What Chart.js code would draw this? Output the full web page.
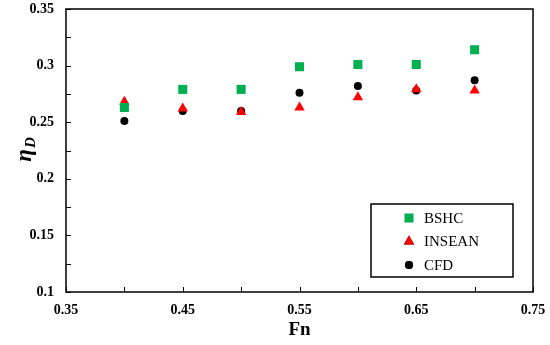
<!DOCTYPE html>
<html>
<head>
<meta charset="utf-8">
<script src="https://cdn.jsdelivr.net/npm/chart.js@4"></script>
<style>
  html, body { margin: 0; padding: 0; background: #fff; }
  #wrap { width: 550px; height: 345px; }
</style>
</head>
<body>
<div id="wrap"><canvas id="etaChart" width="550" height="345"></canvas></div>
<script>
// datos
const fn = [0.40, 0.45, 0.50, 0.55, 0.60, 0.65, 0.70];
const bshc = [0.263, 0.279, 0.279, 0.299, 0.301, 0.301, 0.314];
const insean = [0.268, 0.262, 0.259, 0.263, 0.272, 0.279, 0.278];
const cfd = [0.251, 0.260, 0.260, 0.276, 0.282, 0.278, 0.287];
const seriesNames = ['BSHC', 'INSEAN', 'CFD'];
const xTitle = 'Fn';

function pts(ys) {
    return fn.map((x, i) => ({ x: x, y: ys[i] }));
}

const serif = '"Liberation Serif", "Times New Roman", serif';

// marco, marcas interiores, titulo del eje y y leyenda
const extras = {
    id: 'extras',
    afterDraw(chart) {
        const ctx = chart.ctx;
        const a = chart.chartArea;
        const xs = chart.scales.x, ys = chart.scales.y;
        ctx.save();
        ctx.strokeStyle = '#000';
        ctx.lineWidth = 1.5;
        ctx.strokeRect(a.left, a.top, a.right - a.left, a.bottom - a.top);

        ctx.lineWidth = 1;
        ctx.beginPath();
        xs.ticks.forEach(t => {
            const px = Math.round(xs.getPixelForValue(t.value)) + 0.5;
            ctx.moveTo(px, a.bottom);
            ctx.lineTo(px, a.bottom - 5);
        });
        ys.ticks.forEach(t => {
            const py = Math.round(ys.getPixelForValue(t.value)) + 0.5;
            ctx.moveTo(a.left, py);
            ctx.lineTo(a.left + 5, py);
        });
        ctx.stroke();

        // titulo eje y: eta sub D
        ctx.translate(25, 150);
        ctx.rotate(-Math.PI / 2);
        ctx.fillStyle = '#000';
        ctx.textBaseline = 'alphabetic';
        ctx.font = 'italic bold 23px ' + serif;
        ctx.textAlign = 'left';
        const w1 = ctx.measureText('η').width;
        const w2 = (ctx.font = 'italic bold 15px ' + serif, ctx.measureText('D').width);
        const start = -(w1 + w2) / 2;
        ctx.font = 'italic bold 23px ' + serif;
        ctx.fillText('η', start, 6);
        ctx.font = 'italic bold 15px ' + serif;
        ctx.fillText('D', start + w1 + 1, 10);
        ctx.setTransform(1, 0, 0, 1, 0, 0);

        // leyenda
        const bx = 371, by = 204, bw = 142, bh = 73;
        ctx.fillStyle = '#fff';
        ctx.fillRect(bx, by, bw, bh);
        ctx.strokeStyle = '#000';
        ctx.lineWidth = 1.5;
        ctx.strokeRect(bx, by, bw, bh);
        ctx.font = '15px ' + serif;
        ctx.textAlign = 'left';
        ctx.textBaseline = 'middle';
        chart.data.datasets.forEach((ds, i) => {
            const cy = 218 + i * 23.5;
            Chart.helpers.drawPoint(ctx, {
                pointStyle: ds.pointStyle,
                radius: ds.pointRadius,
                borderWidth: 0
            }, 409, cy);
            ctx.fillStyle = ds.backgroundColor;
            ctx.fill();
            ctx.fillStyle = '#000';
            ctx.fillText(ds.label, 424, cy + 1);
        });
        ctx.restore();
    }
};

const ctx = document.getElementById('etaChart').getContext('2d');
const etaChart = new Chart(ctx, {
    type: 'scatter',
    data: {
        datasets: [{
            label: seriesNames[0],
            data: pts(bshc),
            pointStyle: 'rect',
            pointRadius: 6.4,
            backgroundColor: '#00b050',
            borderWidth: 0
        }, {
            label: seriesNames[1],
            data: pts(insean),
            pointStyle: 'triangle',
            pointRadius: 6,
            backgroundColor: '#ff0000',
            borderWidth: 0
        }, {
            label: seriesNames[2],
            data: pts(cfd),
            pointStyle: 'circle',
            pointRadius: 4,
            backgroundColor: '#000000',
            borderWidth: 0
        }]
    },
    options: {
        responsive: false,
        animation: false,
        layout: { padding: { top: 9, right: 17, left: 0, bottom: 0 } },
        plugins: {
            legend: { display: false },
            tooltip: { enabled: false }
        },
        scales: {
            x: {
                type: 'linear',
                min: 0.35,
                max: 0.75,
                afterFit(s) { s.height = 53; s.paddingLeft = 0; s.paddingRight = 0; },
                ticks: {
                    stepSize: 0.05,
                    autoSkip: false,
                    maxRotation: 0,
                    padding: 10,
                    color: '#000',
                    font: { family: serif, weight: 'bold', size: 14 },
                    callback: v => (Math.round(v * 100) % 10 === 5 ? v.toFixed(2) : '')
                },
                grid: { display: false, drawTicks: false },
                border: { display: false },
                title: {
                    display: true,
                    text: xTitle,
                    color: '#000',
                    padding: { top: 2 },
                    font: { family: serif, weight: 'bold', size: 19 }
                }
            },
            y: {
                min: 0.1,
                max: 0.35,
                afterFit(s) { s.width = 66; s.paddingTop = 0; s.paddingBottom = 0; },
                ticks: {
                    stepSize: 0.025,
                    autoSkip: false,
                    padding: 12,
                    color: '#000',
                    font: { family: serif, weight: 'bold', size: 14 },
                    callback: v => (Math.round(v * 1000) % 50 === 0 ? String(Number(v.toFixed(3))) : '')
                },
                grid: { display: false, drawTicks: false },
                border: { display: false }
            }
        }
    },
    plugins: [extras]
});
</script>
</body>
</html>
